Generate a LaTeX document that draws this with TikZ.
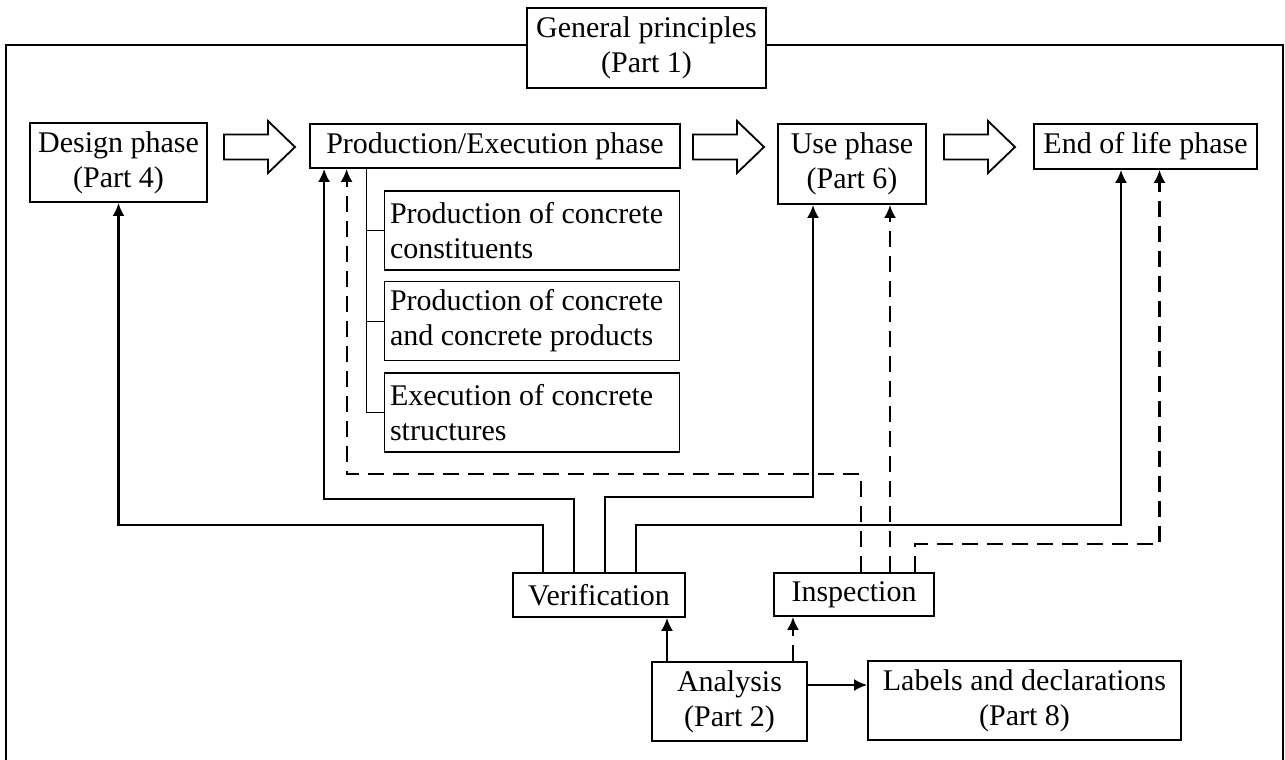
\documentclass[tikz,border=0pt]{standalone}
\usepackage{fontspec}
\setmainfont{Liberation Serif}
\usetikzlibrary{arrows.meta,calc}

\begin{document}
\begin{tikzpicture}[
        x=0.5pt, y=-0.5pt,
        font=\fontsize{15}{17.5}\selectfont,
        phase_box/.style={draw, line width=0.9pt, fill=white, align=center, inner sep=0pt},
        sub_box/.style={phase_box, align=flush left, text width=142pt, inner xsep=2.75pt, minimum height=39.5pt},
        solid_link/.style={draw, line width=1.1pt, -{Latex[length=6.5pt,width=6pt]}},
        dash_link/.style={solid_link, dash pattern=on 8pt off 4.5pt},
        branch/.style={draw, line width=0.5pt},
        big_arrow/.pic={\draw[line width=0.9pt] (0,-12.5) -- (44,-12.5) -- (44,-26) -- (71,0) -- (44,26) -- (44,12.5) -- (0,12.5) -- cycle;}
        ]
    \useasboundingbox (0,0) rectangle (1285,760);
    \draw[line width=1.2pt] (6,770) -- (6,45) -- (1283,45) -- (1283,770);

    % boxes
    \node[phase_box, minimum width=119.5pt, minimum height=40pt] (gen) at (646.5,48) {General principles\\(Part 1)};
    \node[phase_box, minimum width=88.5pt, minimum height=39.5pt] (design) at (118.5,162.5) {Design phase\\(Part 4)};
    \node[phase_box, minimum width=185pt, minimum height=22pt] (prod) at (495,146) {Production/Execution phase};
    \node[phase_box, minimum width=74pt, minimum height=40pt] (use) at (852,164) {Use phase\\(Part 6)};
    \node[phase_box, minimum width=111.5pt, minimum height=22.5pt] (eol) at (1145.5,146.5) {End of life phase};
    \node[sub_box] (sub1) at (532,230.5) {Production of concrete\\constituents};
    \node[sub_box] (sub2) at (532,321) {Production of concrete\\and concrete products};
    \node[sub_box] (sub3) at (532,412.5) {Execution of concrete\\structures};
    \node[phase_box, minimum width=86pt, minimum height=22pt] (verif) at (599,595) {Verification};
    \node[phase_box, minimum width=80pt, minimum height=21.5pt] (insp) at (854,594.5) {Inspection};
    \node[phase_box, minimum width=77.5pt, minimum height=39.5pt] (analysis) at (729.5,701.5) {Analysis\\(Part 2)};
    \node[phase_box, minimum width=156.5pt, minimum height=39.5pt] (labels) at (1024.5,700.5) {Labels and declarations\\(Part 8)};

    % phase sequence
    \pic at (224,147) {big_arrow};
    \pic at (693,147) {big_arrow};
    \pic at (944,147) {big_arrow};

    % sub phases
    \draw[branch] ($(prod.south west)+(57,0)$) coordinate (tr) |- (sub3.west);
    \draw[branch] (tr |- sub1.west) -- (sub1.west);
    \draw[branch] (tr |- sub2.west) -- (sub2.west);

    % verification
    \draw[solid_link] ($(verif.north)+(-56,0)$) -- ++(0,-47) -| (design.south);
    \draw[solid_link] ($(verif.north)+(-25,0)$) -- ++(0,-73) -| ($(prod.south west)+(15,0)$);
    \draw[solid_link] ($(verif.north)+(6,0)$) -- ++(0,-75) -| ($(use.south)+(-39,0)$);
    \draw[solid_link] ($(verif.north)+(37,0)$) -- ++(0,-47) -| ($(eol.south)+(-24.5,0)$);

    % inspection
    \draw[dash_link] ($(insp.north)+(7,0)$) -- ++(0,-98) -| ($(prod.south west)+(37.5,0)$);
    \draw[dash_link] ($(insp.north)+(36,0)$) -- ($(use.south)+(38,0)$);
    \draw[dash_link] ($(insp.north)+(61,0)$) -- ++(0,-28) -| ($(eol.south)+(14,0)$);

    % analysis
    \draw[solid_link] ($(analysis.north)+(-62.5,0)$) coordinate (av) -- (av |- verif.south);
    \draw[dash_link] ($(analysis.north)+(63.5,0)$) coordinate (ai) -- (ai |- insp.south);
    \draw[solid_link] ($(analysis.east)+(0,-16.5)$) coordinate (al) -- (al -| labels.west);
\end{tikzpicture}
\end{document}
